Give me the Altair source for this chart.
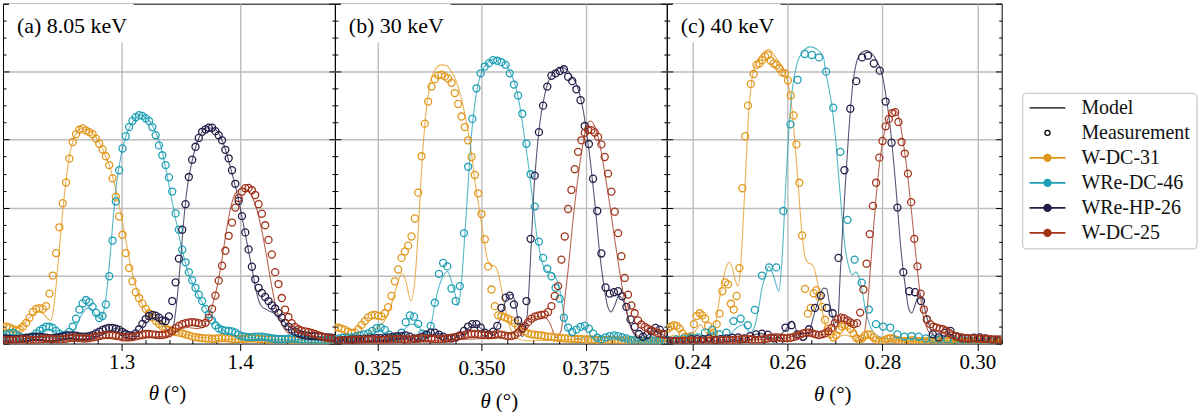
import altair as alt
import pandas as pd

SERIES = ["W-DC-31", "WRe-DC-46", "WRe-HP-26", "W-DC-25"]
COLORS = ["#e1971b", "#1d9fb4", "#221d47", "#a1331a"]
FONT = "Liberation Serif, DejaVu Serif, serif"
GRID = "#bdbdbd"

# ---------------------------------------------------------------- (a) 8.05 keV
# measured reflectivity, every series sampled from 1.2 deg in 0.0028 deg steps
a_start, a_step = 1.2, 0.0028
a_meas_w31 = [0.050, 0.050, 0.047, 0.042, 0.038, 0.042, 0.050, 0.061, 0.076, 0.093,
              0.102, 0.104, 0.102, 0.110, 0.147, 0.200, 0.266, 0.342, 0.413, 0.474,
              0.544, 0.593, 0.616, 0.629, 0.633, 0.627, 0.622, 0.616, 0.603, 0.588,
              0.571, 0.551, 0.525, 0.486, 0.432, 0.374, 0.320, 0.266, 0.222, 0.183,
              0.151, 0.134, 0.118, 0.102, 0.089, 0.077, 0.066, 0.058, 0.050, 0.044,
              0.040, 0.036, 0.034, 0.032, 0.030, 0.027, 0.024, 0.021, 0.019, 0.017,
              0.016, 0.015, 0.015, 0.014, 0.014, 0.015, 0.016, 0.016, 0.015, 0.014,
              0.013, 0.013, 0.013, 0.014, 0.015, 0.015, 0.015, 0.014, 0.013, 0.012,
              0.012, 0.012, 0.013, 0.013, 0.013, 0.012, 0.012, 0.011, 0.011, 0.011,
              0.011, 0.011, 0.010, 0.010, 0.010, 0.010, 0.010, 0.010, 0.010, 0.010, 0.010]
a_meas_wre46 = [0.022, 0.026, 0.030, 0.032, 0.027, 0.020, 0.015, 0.013, 0.017, 0.022,
                0.030, 0.038, 0.044, 0.050, 0.050, 0.046, 0.037, 0.029, 0.024, 0.026,
                0.034, 0.050, 0.073, 0.100, 0.118, 0.128, 0.122, 0.108, 0.091, 0.075,
                0.081, 0.115, 0.198, 0.303, 0.418, 0.510, 0.574, 0.610, 0.637, 0.655,
                0.666, 0.672, 0.670, 0.663, 0.655, 0.637, 0.613, 0.583, 0.554, 0.525,
                0.489, 0.447, 0.383, 0.335, 0.276, 0.239, 0.210, 0.186, 0.164, 0.144,
                0.125, 0.102, 0.086, 0.068, 0.054, 0.045, 0.040, 0.038, 0.037, 0.036,
                0.032, 0.026, 0.022, 0.020, 0.019, 0.019, 0.020, 0.020, 0.020, 0.019,
                0.017, 0.015, 0.014, 0.013, 0.013, 0.013, 0.014, 0.015, 0.014, 0.013,
                0.012, 0.012, 0.012, 0.011, 0.011, 0.011, 0.011, 0.010, 0.010, 0.010, 0.010]
a_meas_hp26 = [0.015, 0.015, 0.014, 0.013, 0.013, 0.014, 0.015, 0.017, 0.018, 0.019,
               0.020, 0.020, 0.019, 0.017, 0.016, 0.016, 0.017, 0.019, 0.021, 0.023,
               0.024, 0.024, 0.023, 0.021, 0.020, 0.020, 0.022, 0.025, 0.030, 0.035,
               0.040, 0.044, 0.046, 0.046, 0.044, 0.040, 0.034, 0.028, 0.024, 0.024,
               0.030, 0.042, 0.058, 0.072, 0.081, 0.084, 0.082, 0.076, 0.068, 0.066,
               0.080, 0.125, 0.180, 0.250, 0.335, 0.410, 0.490, 0.541, 0.579, 0.605,
               0.623, 0.630, 0.635, 0.635, 0.625, 0.613, 0.598, 0.570, 0.545, 0.510,
               0.470, 0.420, 0.375, 0.327, 0.277, 0.226, 0.189, 0.164, 0.149, 0.137,
               0.125, 0.112, 0.103, 0.090, 0.076, 0.061, 0.050, 0.041, 0.035, 0.030,
               0.026, 0.024, 0.023, 0.022, 0.022, 0.021, 0.020, 0.019, 0.018, 0.017, 0.016]
a_meas_w25 = [0.010, 0.010, 0.010, 0.011, 0.011, 0.012, 0.012, 0.012, 0.011, 0.011,
              0.011, 0.012, 0.013, 0.014, 0.014, 0.013, 0.012, 0.012, 0.013, 0.014,
              0.016, 0.017, 0.017, 0.016, 0.015, 0.015, 0.016, 0.018, 0.020, 0.022,
              0.024, 0.025, 0.025, 0.024, 0.023, 0.021, 0.019, 0.018, 0.018, 0.019,
              0.021, 0.024, 0.026, 0.028, 0.028, 0.027, 0.026, 0.025, 0.025, 0.027,
              0.030, 0.037, 0.045, 0.052, 0.057, 0.060, 0.062, 0.063, 0.062, 0.060,
              0.057, 0.061, 0.076, 0.102, 0.141, 0.185, 0.229, 0.273, 0.317, 0.356,
              0.400, 0.428, 0.447, 0.457, 0.458, 0.451, 0.437, 0.410, 0.382, 0.348,
              0.305, 0.262, 0.210, 0.175, 0.134, 0.100, 0.078, 0.060, 0.049, 0.042,
              0.038, 0.036, 0.034, 0.031, 0.028, 0.025, 0.021, 0.018, 0.016, 0.015, 0.014]

# simulated curves (angle, reflectivity)
a_mod_w31_t = [1.2000, 1.2084, 1.2168, 1.2238, 1.2294, 1.2336, 1.2378, 1.2401, 1.2426, 1.2448,
               1.2476, 1.2504, 1.2532, 1.2560, 1.2594, 1.2616, 1.2658, 1.2700, 1.2742, 1.2784,
               1.2826, 1.2868, 1.2910, 1.2952, 1.2994, 1.3036, 1.3078, 1.3120, 1.3162, 1.3204,
               1.3246, 1.3289, 1.3345, 1.3401, 1.3500, 1.3600, 1.3800, 1.4000, 1.4400, 1.4800]
a_mod_w31 = [0.027, 0.037, 0.057, 0.081, 0.093, 0.089, 0.073, 0.068, 0.100, 0.170,
             0.280, 0.390, 0.480, 0.550, 0.600, 0.618, 0.632, 0.629, 0.622, 0.608,
             0.583, 0.549, 0.510, 0.452, 0.383, 0.305, 0.227, 0.169, 0.125, 0.099,
             0.081, 0.068, 0.057, 0.047, 0.030, 0.022, 0.014, 0.012, 0.010, 0.010]
a_mod_wre46_t = [1.2000, 1.2084, 1.2168, 1.2252, 1.2336, 1.2392, 1.2462, 1.2546, 1.2616, 1.2672,
                 1.2714, 1.2751, 1.2790, 1.2818, 1.2846, 1.2874, 1.2902, 1.2930, 1.2958, 1.2994,
                 1.3036, 1.3078, 1.3120, 1.3162, 1.3204, 1.3246, 1.3289, 1.3331, 1.3387, 1.3415,
                 1.3457, 1.3499, 1.3555, 1.3611, 1.3667, 1.3723, 1.3779, 1.3835, 1.3891, 1.3947,
                 1.4087, 1.4227, 1.4507, 1.4800]
a_mod_wre46 = [0.018, 0.027, 0.013, 0.018, 0.037, 0.042, 0.030, 0.020, 0.050, 0.090,
               0.105, 0.100, 0.080, 0.075, 0.090, 0.150, 0.250, 0.370, 0.470, 0.550,
               0.610, 0.643, 0.665, 0.672, 0.665, 0.650, 0.620, 0.580, 0.490, 0.440,
               0.365, 0.295, 0.217, 0.168, 0.129, 0.098, 0.071, 0.047, 0.032, 0.024,
               0.018, 0.013, 0.011, 0.008]
a_mod_hp26_t = [1.2000, 1.2168, 1.2336, 1.2504, 1.2644, 1.2784, 1.2896, 1.2952, 1.3022, 1.3092,
                1.3162, 1.3232, 1.3283, 1.3331, 1.3387, 1.3415, 1.3443, 1.3471, 1.3499, 1.3527,
                1.3555, 1.3597, 1.3653, 1.3723, 1.3793, 1.3863, 1.3933, 1.3989, 1.4045, 1.4101,
                1.4143, 1.4177, 1.4227, 1.4283, 1.4339, 1.4395, 1.4451, 1.4507, 1.4619, 1.4800]
a_mod_hp26 = [0.012, 0.014, 0.018, 0.014, 0.022, 0.020, 0.035, 0.045, 0.030, 0.020,
              0.045, 0.080, 0.085, 0.065, 0.040, 0.030, 0.060, 0.140, 0.250, 0.370,
              0.460, 0.540, 0.605, 0.635, 0.630, 0.585, 0.500, 0.420, 0.320, 0.220,
              0.145, 0.112, 0.099, 0.090, 0.075, 0.056, 0.040, 0.030, 0.020, 0.015]
a_mod_w25_t = [1.2000, 1.2500, 1.2900, 1.3100, 1.3300, 1.3387, 1.3471, 1.3555, 1.3639, 1.3681,
               1.3723, 1.3765, 1.3807, 1.3835, 1.3863, 1.3905, 1.3947, 1.3989, 1.4026, 1.4065,
               1.4101, 1.4143, 1.4185, 1.4227, 1.4269, 1.4311, 1.4353, 1.4395, 1.4451, 1.4507,
               1.4647, 1.4800]
a_mod_w25 = [0.008, 0.010, 0.018, 0.012, 0.020, 0.022, 0.037, 0.047, 0.044, 0.047,
             0.075, 0.110, 0.168, 0.220, 0.283, 0.373, 0.432, 0.452, 0.457, 0.452,
             0.432, 0.393, 0.330, 0.250, 0.165, 0.095, 0.055, 0.034, 0.024, 0.020,
             0.015, 0.012]

# ---------------------------------------------------------------- (b) 30 keV
b_start = 0.3148
b_step_fine, b_step_coarse = 0.0008, 0.001
b_meas_w31 = [0.047, 0.047, 0.044, 0.040, 0.035, 0.031, 0.033, 0.042, 0.055, 0.066,
              0.077, 0.083, 0.084, 0.082, 0.080, 0.089, 0.107, 0.140, 0.183, 0.218,
              0.252, 0.271, 0.288, 0.315, 0.368, 0.444, 0.551, 0.647, 0.712, 0.756,
              0.778, 0.789, 0.791, 0.786, 0.780, 0.767, 0.737, 0.705, 0.668, 0.637,
              0.598, 0.549, 0.496, 0.442, 0.381, 0.307, 0.227, 0.159, 0.110, 0.083,
              0.081, 0.077, 0.073, 0.068, 0.060, 0.050, 0.042, 0.035, 0.030, 0.027,
              0.026, 0.025, 0.024, 0.022, 0.020, 0.020, 0.018, 0.017, 0.016, 0.015,
              0.015, 0.014, 0.014, 0.013, 0.013, 0.012, 0.012, 0.012, 0.011, 0.011,
              0.011, 0.010, 0.010, 0.010, 0.010, 0.009, 0.009, 0.009, 0.009, 0.009,
              0.009, 0.008, 0.008, 0.008, 0.008, 0.008, 0.008, 0.008, 0.008, 0.008]
b_meas_wre46 = [0.013, 0.015, 0.017, 0.018, 0.018, 0.020, 0.024, 0.027, 0.030, 0.037,
                0.045, 0.047, 0.040, 0.026, 0.016, 0.018, 0.032, 0.063, 0.083, 0.079,
                0.058, 0.029, 0.024, 0.052, 0.120, 0.205, 0.237, 0.227, 0.162, 0.125,
                0.169, 0.325, 0.520, 0.661, 0.751, 0.795, 0.815, 0.825, 0.834, 0.832,
                0.828, 0.820, 0.795, 0.762, 0.730, 0.676, 0.588, 0.498, 0.403, 0.300,
                0.252, 0.220, 0.198, 0.164, 0.132, 0.076, 0.047, 0.034, 0.041, 0.049,
                0.052, 0.044, 0.030, 0.017, 0.013, 0.018, 0.022, 0.024, 0.022, 0.018,
                0.015, 0.011, 0.009, 0.008, 0.008, 0.008, 0.009, 0.009, 0.009, 0.009]
b_meas_hp26 = [0.008, 0.009, 0.010, 0.011, 0.012, 0.012, 0.013, 0.013, 0.014, 0.015,
               0.016, 0.016, 0.016, 0.018, 0.020, 0.022, 0.022, 0.024, 0.020, 0.015,
               0.016, 0.020, 0.027, 0.032, 0.032, 0.026, 0.020, 0.016, 0.015, 0.018,
               0.024, 0.037, 0.050, 0.057, 0.057, 0.047, 0.032, 0.027, 0.035, 0.052,
               0.105, 0.135, 0.141, 0.115, 0.068, 0.046, 0.125, 0.308, 0.494, 0.622,
               0.700, 0.756, 0.788, 0.795, 0.802, 0.807, 0.785, 0.772, 0.748, 0.716,
               0.640, 0.587, 0.485, 0.390, 0.265, 0.165, 0.147, 0.151, 0.154, 0.139,
               0.108, 0.071, 0.049, 0.028, 0.020, 0.026, 0.036, 0.046, 0.041, 0.028]
b_meas_w25 = [0.008, 0.008, 0.009, 0.009, 0.010, 0.010, 0.010, 0.011, 0.011, 0.012,
              0.012, 0.012, 0.012, 0.011, 0.011, 0.011, 0.012, 0.012, 0.013, 0.013,
              0.013, 0.012, 0.012, 0.012, 0.013, 0.014, 0.015, 0.015, 0.015, 0.014,
              0.013, 0.013, 0.013, 0.014, 0.015, 0.017, 0.019, 0.021, 0.023, 0.025,
              0.027, 0.028, 0.028, 0.027, 0.026, 0.025, 0.024, 0.025, 0.026, 0.027,
              0.026, 0.024, 0.022, 0.022, 0.025, 0.032, 0.042, 0.052, 0.063, 0.073,
              0.079, 0.082, 0.084, 0.086, 0.093, 0.110, 0.140, 0.169, 0.247, 0.315,
              0.396, 0.452, 0.513, 0.564, 0.598, 0.620, 0.629, 0.628, 0.621, 0.608,
              0.586, 0.549, 0.500, 0.447, 0.388, 0.325, 0.257, 0.193, 0.144, 0.112,
              0.089, 0.068, 0.056, 0.049, 0.044, 0.039, 0.035, 0.031, 0.028, 0.026]

b_mod_w31_t = [0.3148, 0.3173, 0.3205, 0.3229, 0.3253, 0.3269, 0.3285, 0.3297, 0.3309, 0.3318,
               0.3331, 0.3341, 0.3349, 0.3357, 0.3366, 0.3376, 0.3388, 0.3404, 0.3416, 0.3428,
               0.3440, 0.3452, 0.3464, 0.3475, 0.3484, 0.3494, 0.3504, 0.3512, 0.3520, 0.3532,
               0.3542, 0.3548, 0.3556, 0.3564, 0.3572, 0.3580, 0.3592, 0.3608, 0.3656, 0.3735,
               0.3815, 0.3895, 0.3945]
b_mod_w31 = [0.012, 0.012, 0.020, 0.030, 0.050, 0.070, 0.120, 0.170, 0.207, 0.185,
             0.125, 0.200, 0.350, 0.530, 0.670, 0.760, 0.805, 0.820, 0.818, 0.800,
             0.770, 0.720, 0.650, 0.570, 0.480, 0.400, 0.320, 0.260, 0.232, 0.228,
             0.198, 0.159, 0.110, 0.066, 0.037, 0.022, 0.013, 0.008, 0.010, 0.012,
             0.008, 0.006, 0.006]
b_mod_wre46_t = [0.3148, 0.3173, 0.3205, 0.3237, 0.3257, 0.3273, 0.3293, 0.3309, 0.3321, 0.3333,
                 0.3345, 0.3357, 0.3368, 0.3380, 0.3388, 0.3398, 0.3408, 0.3419, 0.3428, 0.3438,
                 0.3444, 0.3452, 0.3459, 0.3467, 0.3475, 0.3484, 0.3492, 0.3502, 0.3512, 0.3524,
                 0.3536, 0.3544, 0.3556, 0.3568, 0.3580, 0.3592, 0.3604, 0.3616, 0.3624, 0.3632,
                 0.3640, 0.3648, 0.3658, 0.3668, 0.3678, 0.3686, 0.3694, 0.3702, 0.3711, 0.3723,
                 0.3735, 0.3751, 0.3775, 0.3807, 0.3839, 0.3895, 0.3945]
b_mod_wre46 = [0.008, 0.013, 0.018, 0.030, 0.037, 0.027, 0.012, 0.030, 0.050, 0.057,
               0.055, 0.037, 0.027, 0.060, 0.115, 0.168, 0.198, 0.212, 0.183, 0.139,
               0.112, 0.180, 0.300, 0.450, 0.600, 0.705, 0.764, 0.803, 0.823, 0.834,
               0.840, 0.840, 0.830, 0.800, 0.765, 0.700, 0.600, 0.495, 0.410, 0.325,
               0.270, 0.230, 0.212, 0.210, 0.195, 0.170, 0.115, 0.061, 0.032, 0.018,
               0.013, 0.020, 0.013, 0.020, 0.012, 0.008, 0.006]
b_mod_hp26_t = [0.3148, 0.3221, 0.3301, 0.3317, 0.3341, 0.3380, 0.3396, 0.3420, 0.3444, 0.3468,
                0.3484, 0.3504, 0.3524, 0.3544, 0.3560, 0.3572, 0.3580, 0.3588, 0.3598, 0.3608,
                0.3614, 0.3620, 0.3625, 0.3632, 0.3640, 0.3649, 0.3660, 0.3672, 0.3684, 0.3695,
                0.3707, 0.3719, 0.3731, 0.3743, 0.3753, 0.3763, 0.3774, 0.3783, 0.3793, 0.3803,
                0.3811, 0.3821, 0.3829, 0.3837, 0.3847, 0.3856, 0.3867, 0.3879, 0.3895, 0.3911,
                0.3927, 0.3945]
b_mod_hp26 = [0.005, 0.008, 0.015, 0.020, 0.012, 0.025, 0.030, 0.012, 0.020, 0.045,
              0.055, 0.040, 0.030, 0.070, 0.130, 0.145, 0.125, 0.070, 0.020, 0.060,
              0.159, 0.305, 0.432, 0.549, 0.647, 0.715, 0.769, 0.796, 0.808, 0.812,
              0.803, 0.783, 0.754, 0.695, 0.617, 0.520, 0.393, 0.276, 0.178, 0.110,
              0.093, 0.115, 0.140, 0.135, 0.100, 0.056, 0.027, 0.013, 0.020, 0.035,
              0.030, 0.020]
b_mod_w25_t = [0.3148, 0.3250, 0.3350, 0.3450, 0.3500, 0.3540, 0.3580, 0.3620, 0.3644, 0.3664,
               0.3679, 0.3691, 0.3699, 0.3709, 0.3719, 0.3731, 0.3743, 0.3754, 0.3762, 0.3771,
               0.3783, 0.3795, 0.3807, 0.3819, 0.3831, 0.3843, 0.3855, 0.3867, 0.3883, 0.3907,
               0.3945]
b_mod_w25 = [0.005, 0.006, 0.008, 0.012, 0.015, 0.020, 0.035, 0.076, 0.081, 0.061,
             0.018, 0.037, 0.120, 0.227, 0.354, 0.481, 0.583, 0.645, 0.655, 0.642,
             0.593, 0.510, 0.418, 0.315, 0.218, 0.130, 0.066, 0.032, 0.018, 0.011,
             0.008]

# ---------------------------------------------------------------- (c) 40 keV
# (first angle, step) differ between the four scans
c_grid = {"W-DC-31": (0.2349, 0.0006), "WRe-DC-46": (0.23514, 0.0015),
          "WRe-HP-26": (0.234795, 0.00124), "W-DC-25": (0.23512, 0.00067)}
c_meas_w31 = [0.045, 0.050, 0.054, 0.052, 0.044, 0.030, 0.020, 0.018, 0.022, 0.057,
              0.081, 0.089, 0.083, 0.073, 0.052, 0.027, 0.032, 0.057, 0.088, 0.154,
              0.180, 0.174, 0.117, 0.100, 0.140, 0.222, 0.457, 0.610, 0.700, 0.764,
              0.793, 0.820, 0.824, 0.834, 0.844, 0.849, 0.832, 0.824, 0.819, 0.810,
              0.798, 0.795, 0.774, 0.730, 0.671, 0.586, 0.473, 0.318, 0.161, 0.088,
              0.105, 0.148, 0.157, 0.138, 0.108, 0.070, 0.044, 0.027, 0.018, 0.025,
              0.040, 0.050, 0.055, 0.052, 0.043, 0.030, 0.016, 0.010, 0.015, 0.024,
              0.027, 0.026, 0.018, 0.010, 0.006, 0.006, 0.010, 0.014, 0.016, 0.014,
              0.011, 0.008, 0.007, 0.007, 0.008, 0.009, 0.009, 0.008, 0.007, 0.006,
              0.006, 0.007, 0.008, 0.008, 0.007, 0.006, 0.006, 0.006, 0.007, 0.007,
              0.007, 0.006, 0.006, 0.005, 0.005, 0.006, 0.006, 0.006, 0.005, 0.005,
              0.005, 0.005, 0.006, 0.006, 0.005, 0.005, 0.005, 0.005]
c_meas_wre46 = [0.010, 0.012, 0.015, 0.018, 0.018, 0.032, 0.040, 0.027, 0.032, 0.066,
                0.073, 0.054, 0.099, 0.200, 0.224, 0.224, 0.390, 0.645, 0.776, 0.852,
                0.849, 0.842, 0.800, 0.694, 0.564, 0.364, 0.247, 0.179, 0.100, 0.057,
                0.050, 0.047, 0.027, 0.020, 0.022, 0.020, 0.015, 0.013, 0.012, 0.012,
                0.010, 0.010, 0.009, 0.009, 0.008, 0.008, 0.008]
c_meas_hp26 = [0.005, 0.005, 0.006, 0.008, 0.013, 0.013, 0.013, 0.015, 0.011, 0.013,
               0.015, 0.017, 0.018, 0.015, 0.022, 0.027, 0.029, 0.026, 0.015, 0.008,
               0.047, 0.054, 0.027, 0.020, 0.042, 0.105, 0.141, 0.105, 0.089, 0.252,
               0.510, 0.691, 0.772, 0.842, 0.847, 0.824, 0.803, 0.712, 0.591, 0.400,
               0.210, 0.154, 0.151, 0.125, 0.071, 0.027, 0.018, 0.032, 0.037, 0.022,
               0.015, 0.015, 0.017, 0.018, 0.015, 0.011, 0.010]
c_meas_w25 = [0.008, 0.008, 0.008, 0.008, 0.008, 0.008, 0.008, 0.008, 0.008, 0.008,
              0.008, 0.008, 0.008, 0.009, 0.009, 0.009, 0.009, 0.010, 0.010, 0.010,
              0.010, 0.011, 0.012, 0.013, 0.013, 0.013, 0.012, 0.011, 0.011, 0.012,
              0.013, 0.015, 0.017, 0.018, 0.018, 0.017, 0.016, 0.016, 0.017, 0.019,
              0.022, 0.026, 0.030, 0.032, 0.032, 0.030, 0.027, 0.025, 0.027, 0.030,
              0.036, 0.046, 0.060, 0.072, 0.076, 0.074, 0.068, 0.062, 0.057, 0.060,
              0.091, 0.159, 0.235, 0.322, 0.405, 0.473, 0.547, 0.596, 0.639, 0.661,
              0.678, 0.681, 0.652, 0.593, 0.559, 0.500, 0.416, 0.308, 0.227, 0.147,
              0.100, 0.071, 0.057, 0.050, 0.047, 0.044, 0.042, 0.038, 0.031, 0.025,
              0.021, 0.019, 0.018, 0.016, 0.015, 0.015, 0.015, 0.014, 0.014, 0.014,
              0.013, 0.013, 0.012, 0.012, 0.012, 0.011]

c_mod_w31_t = [0.2344, 0.2362, 0.2383, 0.2403, 0.2417, 0.2431, 0.2442, 0.2449, 0.2458, 0.2466,
               0.2473, 0.2478, 0.2484, 0.2491, 0.2496, 0.2501, 0.2506, 0.2512, 0.2517, 0.2524,
               0.2533, 0.2543, 0.2556, 0.2561, 0.2568, 0.2578, 0.2589, 0.2599, 0.2606, 0.2612,
               0.2617, 0.2622, 0.2627, 0.2633, 0.2638, 0.2645, 0.2652, 0.2659, 0.2666, 0.2673,
               0.2680, 0.2687, 0.2694, 0.2708, 0.2722, 0.2736, 0.2750, 0.2771, 0.2792, 0.2820,
               0.2890, 0.2960, 0.3051]
c_mod_w31 = [0.010, 0.025, 0.010, 0.030, 0.055, 0.030, 0.030, 0.060, 0.140, 0.198,
             0.232, 0.239, 0.222, 0.183, 0.169, 0.218, 0.335, 0.500, 0.647, 0.764,
             0.822, 0.847, 0.863, 0.866, 0.856, 0.837, 0.813, 0.778, 0.730, 0.657,
             0.569, 0.481, 0.383, 0.295, 0.250, 0.236, 0.233, 0.208, 0.159, 0.100,
             0.052, 0.022, 0.008, 0.020, 0.025, 0.018, 0.008, 0.015, 0.005, 0.008,
             0.005, 0.004, 0.004]
c_mod_wre46_t = [0.2344, 0.2403, 0.2438, 0.2473, 0.2494, 0.2508, 0.2522, 0.2533, 0.2540, 0.2547,
                 0.2554, 0.2561, 0.2571, 0.2582, 0.2589, 0.2596, 0.2603, 0.2610, 0.2620, 0.2634,
                 0.2648, 0.2662, 0.2676, 0.2680, 0.2687, 0.2694, 0.2701, 0.2708, 0.2715, 0.2722,
                 0.2729, 0.2736, 0.2744, 0.2750, 0.2757, 0.2764, 0.2774, 0.2785, 0.2799, 0.2820,
                 0.2862, 0.2911, 0.2981, 0.3051]
c_mod_wre46 = [0.004, 0.012, 0.027, 0.022, 0.047, 0.056, 0.032, 0.060, 0.110, 0.168,
               0.198, 0.227, 0.198, 0.154, 0.256, 0.452, 0.627, 0.744, 0.822, 0.861,
               0.873, 0.866, 0.842, 0.803, 0.754, 0.695, 0.608, 0.490, 0.373, 0.276,
               0.227, 0.202, 0.210, 0.198, 0.159, 0.100, 0.052, 0.027, 0.018, 0.013,
               0.015, 0.010, 0.006, 0.005]
c_mod_hp26_t = [0.2344, 0.2438, 0.2508, 0.2543, 0.2571, 0.2596, 0.2610, 0.2620, 0.2631, 0.2645,
                0.2655, 0.2666, 0.2676, 0.2683, 0.2687, 0.2694, 0.2701, 0.2706, 0.2711, 0.2716,
                0.2722, 0.2729, 0.2737, 0.2746, 0.2757, 0.2767, 0.2778, 0.2788, 0.2799, 0.2809,
                0.2820, 0.2830, 0.2839, 0.2848, 0.2856, 0.2862, 0.2869, 0.2877, 0.2884, 0.2891,
                0.2900, 0.2911, 0.2932, 0.2946, 0.2967, 0.3002, 0.3051]
c_mod_hp26 = [0.004, 0.008, 0.015, 0.030, 0.015, 0.040, 0.066, 0.035, 0.008, 0.030,
              0.080, 0.130, 0.163, 0.160, 0.130, 0.085, 0.040, 0.060, 0.200, 0.330,
              0.470, 0.620, 0.755, 0.830, 0.857, 0.862, 0.852, 0.832, 0.793, 0.715,
              0.588, 0.432, 0.276, 0.169, 0.100, 0.090, 0.115, 0.144, 0.130, 0.091,
              0.047, 0.022, 0.015, 0.025, 0.012, 0.010, 0.008]
c_mod_w25_t = [0.2344, 0.2473, 0.2543, 0.2594, 0.2634, 0.2662, 0.2680, 0.2694, 0.2708, 0.2718,
               0.2729, 0.2739, 0.2750, 0.2758, 0.2765, 0.2772, 0.2779, 0.2786, 0.2793, 0.2800,
               0.2807, 0.2814, 0.2820, 0.2825, 0.2830, 0.2837, 0.2844, 0.2851, 0.2858, 0.2865,
               0.2872, 0.2879, 0.2886, 0.2893, 0.2904, 0.2918, 0.2932, 0.2946, 0.2974, 0.3016,
               0.3051]
c_mod_w25 = [0.003, 0.006, 0.012, 0.015, 0.030, 0.025, 0.027, 0.050, 0.071, 0.076,
             0.068, 0.047, 0.018, 0.008, 0.060, 0.170, 0.300, 0.420, 0.520, 0.590,
             0.640, 0.672, 0.685, 0.688, 0.682, 0.650, 0.590, 0.520, 0.432, 0.335,
             0.237, 0.150, 0.081, 0.047, 0.027, 0.022, 0.022, 0.018, 0.012, 0.010,
             0.008]

# ---------------------------------------------------------------- tables
meas_rows, model_rows = [], []


def add_meas(panel, series, start, step, values):
    for i, v in enumerate(values):
        meas_rows.append({"panel": panel, "series": series, "theta": start + i * step, "value": v})


def add_model(panel, series, thetas, values):
    for t, v in zip(thetas, values):
        model_rows.append({"panel": panel, "series": series, "theta": t, "value": v})


for s, vals in zip(SERIES, [a_meas_w31, a_meas_wre46, a_meas_hp26, a_meas_w25]):
    add_meas("a", s, a_start, a_step, vals)
for s, vals, step in zip(SERIES, [b_meas_w31, b_meas_wre46, b_meas_hp26, b_meas_w25],
                         [b_step_fine, b_step_coarse, b_step_coarse, b_step_fine]):
    add_meas("b", s, b_start, step, vals)
for s, vals in zip(SERIES, [c_meas_w31, c_meas_wre46, c_meas_hp26, c_meas_w25]):
    add_meas("c", s, c_grid[s][0], c_grid[s][1], vals)

for s, t, v in zip(SERIES, [a_mod_w31_t, a_mod_wre46_t, a_mod_hp26_t, a_mod_w25_t],
                   [a_mod_w31, a_mod_wre46, a_mod_hp26, a_mod_w25]):
    add_model("a", s, t, v)
for s, t, v in zip(SERIES, [b_mod_w31_t, b_mod_wre46_t, b_mod_hp26_t, b_mod_w25_t],
                   [b_mod_w31, b_mod_wre46, b_mod_hp26, b_mod_w25]):
    add_model("b", s, t, v)
for s, t, v in zip(SERIES, [c_mod_w31_t, c_mod_wre46_t, c_mod_hp26_t, c_mod_w25_t],
                   [c_mod_w31, c_mod_wre46, c_mod_hp26, c_mod_w25]):
    add_model("c", s, t, v)

meas_df = pd.DataFrame(meas_rows)
model_df = pd.DataFrame(model_rows)

Y_MAJOR = [0.0, 0.2, 0.4, 0.6, 0.8, 1.0]
Y_MINOR = [0.05, 0.1, 0.15, 0.25, 0.3, 0.35, 0.45, 0.5, 0.55, 0.65, 0.7, 0.75, 0.85, 0.9, 0.95]

PANELS = [
    dict(name="a", label="(a) 8.05 keV", domain=[1.2, 1.48], major=[1.3, 1.4],
         minor=[1.22, 1.24, 1.26, 1.28, 1.32, 1.34, 1.36, 1.38, 1.42, 1.44, 1.46],
         fmt=".1f", width=333, box=131, label_pad=1, title_y=392),
    dict(name="b", label="(b) 30 keV", domain=[0.3148, 0.3945], major=[0.325, 0.35, 0.375],
         minor=[0.31875, 0.33125, 0.3375, 0.34375, 0.35625, 0.3625, 0.36875, 0.38125, 0.3875, 0.39375],
         fmt=".3f", width=333, box=116, label_pad=7, title_y=400),
    dict(name="c", label="(c) 40 keV", domain=[0.2346, 0.3051], major=[0.24, 0.26, 0.28, 0.30],
         minor=[0.235, 0.245, 0.25, 0.255, 0.265, 0.27, 0.275, 0.285, 0.29, 0.295, 0.305],
         fmt=".2f", width=336, box=114, label_pad=1, title_y=393),
]

one = pd.DataFrame({"k": [0]})


def make_panel(p):
    xs = alt.Scale(domain=p["domain"], nice=False, zero=False)
    ys = alt.Scale(domain=[0, 1], nice=False, zero=False)
    color = alt.Color("series:N", scale=alt.Scale(domain=SERIES, range=COLORS), legend=None)
    corners = pd.DataFrame({"theta": p["domain"], "value": [0.0, 1.0]})

    x_major = alt.X("theta:Q", scale=xs, title=None,
                    axis=alt.Axis(orient="bottom", values=p["major"], format=p["fmt"], grid=True,
                                  gridColor=GRID, gridWidth=1.4, domain=False, tickSize=7,
                                  labelPadding=p["label_pad"]))
    y_grid = alt.Y("value:Q", scale=ys, title=None,
                   axis=alt.Axis(orient="left", values=[0.2, 0.4, 0.6, 0.8], grid=True,
                                 gridColor=GRID, gridWidth=1.4, ticks=False, labels=False,
                                 domain=False))
    lines = alt.Chart(model_df[model_df.panel == p["name"]]).mark_line(
        strokeWidth=1.1, opacity=0.75, clip=True, interpolate="monotone"
    ).encode(x=x_major, y=y_grid, color=color, detail="series:N")

    x_minor = alt.X("theta:Q", scale=xs, title=None,
                    axis=alt.Axis(orient="bottom", values=p["minor"], grid=False, labels=False,
                                  domain=False, tickSize=4, offset=-4))
    y_left = alt.Y("value:Q", scale=ys, title=None,
                   axis=alt.Axis(orient="left", values=Y_MAJOR, grid=False, labels=False,
                                 domain=False, tickSize=6, offset=-6))
    points = alt.Chart(meas_df[meas_df.panel == p["name"]]).mark_point(
        shape="circle", filled=False, size=50, strokeWidth=1.3, opacity=1, clip=True
    ).encode(x=x_minor, y=y_left, color=color)

    def tick_layer(orient, values, size):
        return alt.Chart(corners).mark_point(opacity=0).encode(
            x=alt.X("theta:Q", scale=xs, axis=None),
            y=alt.Y("value:Q", scale=ys, title=None,
                    axis=alt.Axis(orient=orient, values=values, grid=False, labels=False,
                                  domain=False, tickSize=size, offset=-size)))

    box = alt.Chart(one).mark_rect(color="white").encode(
        x=alt.value(6), x2=alt.value(p["box"]), y=alt.value(0), y2=alt.value(39))
    label = alt.Chart(one).mark_text(
        text=p["label"], align="left", baseline="alphabetic", font=FONT, fontSize=22, color="black"
    ).encode(x=alt.value(14), y=alt.value(29))
    cx = p["width"] / 2
    theta_t = alt.Chart(one).mark_text(
        text="θ", align="right", baseline="middle", font=FONT, fontSize=21,
        fontStyle="italic", color="black"
    ).encode(x=alt.value(cx - 10), y=alt.value(p["title_y"]))
    unit_t = alt.Chart(one).mark_text(
        text="(°)", align="left", baseline="middle", font=FONT, fontSize=21, color="black"
    ).encode(x=alt.value(cx - 5), y=alt.value(p["title_y"]))

    return alt.layer(
        lines, points,
        tick_layer("left", Y_MINOR, 3),
        tick_layer("right", Y_MAJOR, 6),
        tick_layer("right", Y_MINOR, 3),
        box, label, theta_t, unit_t,
    ).resolve_axis(x="independent", y="independent").properties(width=p["width"], height=341)


# ---------------------------------------------------------------- legend
LEGEND_LABELS = ["Model", "Measurement"] + SERIES
legend_df = pd.DataFrame({
    "label": LEGEND_LABELS,
    "row": list(range(len(LEGEND_LABELS))),
    "color": ["#4a4a4a", "#000000"] + COLORS,
    "line": [1, 0, 1, 1, 1, 1],
    "dot": ["none", "open", "filled", "filled", "filled", "filled"],
})
# rows run downwards, 25 px apart, first row 104 px below the top
ly = alt.Y("row:Q", scale=alt.Scale(domain=[-4.163, 9.423], reverse=True, nice=False, zero=False),
           axis=None)
leg_box = alt.Chart(one).mark_rect(
    fill="white", stroke="#cccccc", strokeWidth=1.3, cornerRadius=4
).encode(x=alt.value(21), x2=alt.value(196), y=alt.value(90), y2=alt.value(246))
leg_lines = alt.Chart(legend_df).transform_filter("datum.line == 1").mark_rule(
    strokeWidth=1.8
).encode(x=alt.value(28), x2=alt.value(64), y=ly, color=alt.Color("color:N", scale=None))
leg_dots = alt.Chart(legend_df).transform_filter("datum.dot == 'filled'").mark_point(
    shape="circle", filled=True, size=70, opacity=1
).encode(x=alt.value(46), y=ly, color=alt.Color("color:N", scale=None))
leg_ring = alt.Chart(legend_df).transform_filter("datum.dot == 'open'").mark_point(
    shape="circle", filled=False, size=26, strokeWidth=1.3, opacity=1, color="black"
).encode(x=alt.value(46), y=ly)
leg_text = alt.Chart(legend_df).mark_text(
    align="left", baseline="middle", font=FONT, fontSize=20, color="#111111"
).encode(x=alt.value(80), y=ly, text="label:N")
legend = alt.layer(leg_box, leg_lines, leg_dots, leg_ring, leg_text).properties(
    width=198, height=341, view=alt.ViewBackground(stroke="transparent"))

chart = alt.hconcat(*[make_panel(p) for p in PANELS], legend, spacing=0, bounds="flush").properties(
    padding={"left": -1, "top": -1, "right": 0, "bottom": 0}
).configure_view(stroke="black", strokeWidth=1).configure_axis(
    tickColor="black", tickWidth=1, labelFont=FONT, labelFontSize=21, labelColor="black"
)

chart.save("out.html", embed_options={"renderer": "svg", "actions": False})
